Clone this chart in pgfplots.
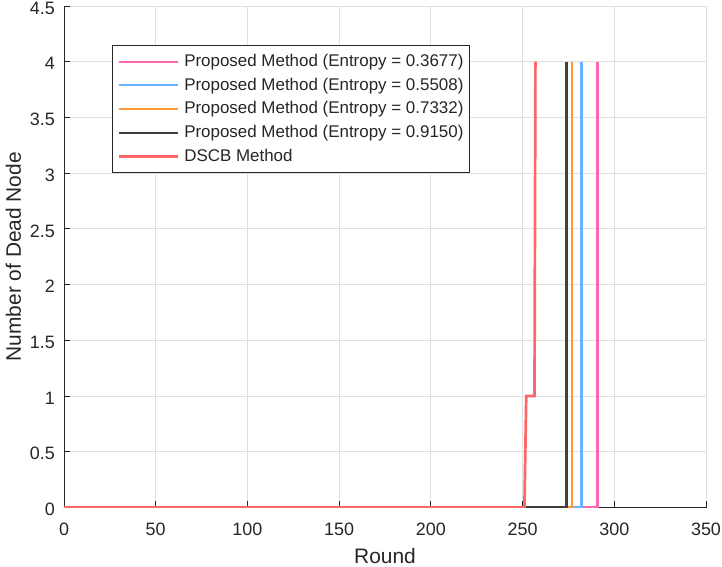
\documentclass[border=0pt]{standalone}
\usepackage{fontspec}
\setmainfont{Liberation Sans}
\usepackage{pgfplots}
\pgfplotsset{compat=1.18}
\definecolor{mypink}{HTML}{FF66B2}
\definecolor{myblue}{HTML}{66B2FF}
\definecolor{myorange}{HTML}{FF9933}
\definecolor{mydark}{HTML}{404040}
\definecolor{myred}{HTML}{FF6666}
\definecolor{axcol}{RGB}{38,38,38}
\definecolor{gridcol}{RGB}{223,223,223}
\pgfplotsset{
  pinkl/.style={line width=2.7bp, draw=mypink, color=mypink},
  bluel/.style={line width=2.7bp, draw=myblue, color=myblue},
  orangel/.style={line width=2.7bp, draw=myorange, color=myorange},
  darkl/.style={line width=2.7bp, draw=mydark, color=mydark},
  redl/.style={line width=2.7bp, draw=myred, color=myred},
}
\begin{document}
\begin{tikzpicture}
\begin{axis}[
  scale only axis, width=642bp, height=501.5bp,
  xmin=0, xmax=350, ymin=0, ymax=4.5,
  xtick={0,50,100,150,200,250,300,350},
  ytick={0,0.5,1,1.5,2,2.5,3,3.5,4,4.5},
  /pgf/number format/assume math mode=true,
  axis x line=bottom, axis y line=left,
  axis line style={-, axcol, line width=0.9bp},
  every outer x axis line/.append style={-},
  every outer y axis line/.append style={-},
  tick align=inside, major tick length=6bp,
  tick style={axcol, line width=0.9bp},
  grid=major, major grid style={gridcol, line width=0.9bp},
  xticklabel style={font=\fontsize{18}{18}\selectfont, text=axcol, anchor=base, yshift=-27.5bp},
  yticklabel style={font=\fontsize{18}{18}\selectfont, text=axcol, anchor=east, inner xsep=0pt, xshift=-9bp, yshift=-2bp},
  xlabel={Round},
  xlabel style={at={(axis description cs:0.5,-0.111)}, anchor=base, font=\fontsize{21}{21}\selectfont, text=axcol},
  ylabel={Number of Dead Node},
  ylabel style={at={(axis description cs:-0.0787,0.5)}, anchor=center, font=\fontsize{21}{21}\selectfont, text=axcol},
  legend style={at={(axis description cs:0.0743,0.9222)}, anchor=north west,
    draw=axcol, line width=0.8bp, fill=white, inner xsep=6bp, inner ysep=8bp,
    row sep=7.2bp, column sep=5bp, font=\fontsize{17}{17}\selectfont,
    nodes={inner sep=0pt, text height=13bp, text depth=3.5bp, text=black!85},
    cells={anchor=west}},
  legend image code/.code={\draw[#1, line width=2.2bp] (0bp,0bp) -- (59bp,0bp);},
  legend cell align=left,
]
\addplot[pinkl] coordinates {(0,0) (291,0) (291,4)};
\addlegendentry{Proposed Method (Entropy = 0.3677)}
\addplot[bluel] coordinates {(0,0) (282,0) (282,4)};
\addlegendentry{Proposed Method (Entropy = 0.5508)}
\addplot[orangel] coordinates {(0,0) (277,0) (277,4)};
\addlegendentry{Proposed Method (Entropy = 0.7332)}
\addplot[darkl] coordinates {(0,0) (274,0) (274,4)};
\addlegendentry{Proposed Method (Entropy = 0.9150)}
\addplot[redl] coordinates {(0,0) (251,0) (252,1) (256.5,1) (257,4)};
\addlegendentry{DSCB Method}
\coordinate (ll) at (rel axis cs:0,0);
\coordinate (ur) at (rel axis cs:1,1);
\end{axis}
\pgfresetboundingbox
\path ([xshift=-64bp,yshift=-59.5bp]ll) rectangle ([xshift=16bp,yshift=6bp]ur);
\end{tikzpicture}
\end{document}
